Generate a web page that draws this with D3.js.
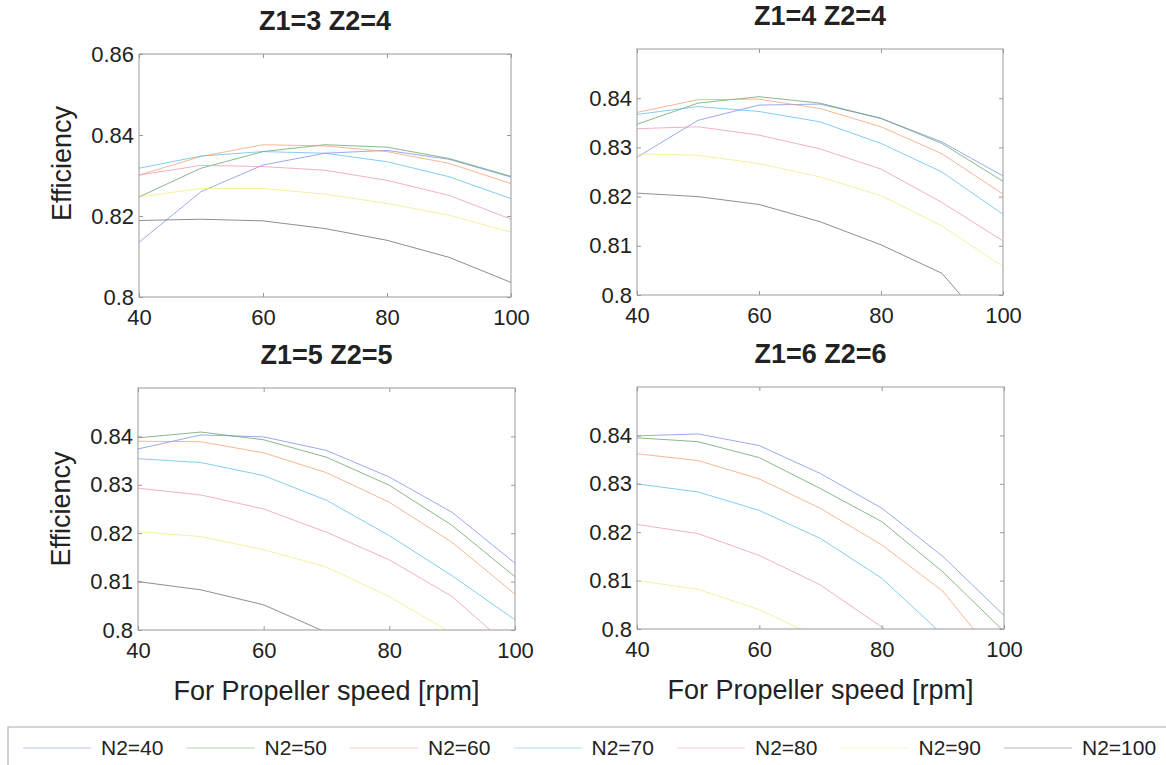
<html>
<head>
<meta charset="utf-8"/>
<title>Efficiency vs propeller speed</title>
<script src="https://d3js.org/d3.v7.min.js"></script>
<style>
  body { margin: 0; background: #fff; }
  text { font-family: "Liberation Sans", Arial, sans-serif; fill: #222; }
  .tick text { font-size: 22px; }
  .title { font-size: 27px; font-weight: bold; }
  .axisLabel { font-size: 27px; }
  .legendText { font-size: 21px; }
</style>
</head>
<body>
<div id="chart"></div>
<script>

var speeds = [40, 50, 60, 70, 80, 90, 100];
var seriesNames = ["N2=40", "N2=50", "N2=60", "N2=70", "N2=80", "N2=90", "N2=100"];
var seriesColors = ["#6f86e6", "#5a9a5a", "#f29868", "#4fb8ec", "#ee8fb0", "#efe97a", "#5e5e5e"];

// efficiency, one row per N2 series, one value per speed
var effZ3Z4 = [
  [0.8135, 0.8260, 0.8326, 0.8355, 0.8362, 0.8340, 0.8296],
  [0.8247, 0.8318, 0.8359, 0.8376, 0.8370, 0.8342, 0.8298],
  [0.8301, 0.8347, 0.8376, 0.8373, 0.8359, 0.8330, 0.8280],
  [0.8318, 0.8348, 0.8359, 0.8355, 0.8334, 0.8297, 0.8243],
  [0.8301, 0.8325, 0.8322, 0.8313, 0.8288, 0.8251, 0.8192],
  [0.8247, 0.8268, 0.8268, 0.8254, 0.8231, 0.8202, 0.8160],
  [0.8189, 0.8192, 0.8188, 0.8169, 0.8140, 0.8098, 0.8036]
];
var effZ4Z4 = [
  [0.8280, 0.8355, 0.8386, 0.8388, 0.8359, 0.8311, 0.8242],
  [0.8347, 0.8390, 0.8403, 0.8390, 0.8359, 0.8308, 0.8231],
  [0.8371, 0.8397, 0.8398, 0.8379, 0.8342, 0.8287, 0.8205],
  [0.8367, 0.8383, 0.8373, 0.8352, 0.8308, 0.8250, 0.8164],
  [0.8338, 0.8342, 0.8325, 0.8297, 0.8256, 0.8188, 0.8110],
  [0.8287, 0.8284, 0.8267, 0.8240, 0.8202, 0.8140, 0.8058],
  [0.8207, 0.8200, 0.8184, 0.8149, 0.8102, 0.8044, 0.7900]
];
var effZ5Z5 = [
  [0.8374, 0.8403, 0.8399, 0.8371, 0.8316, 0.8243, 0.8138],
  [0.8397, 0.8409, 0.8393, 0.8357, 0.8299, 0.8216, 0.8110],
  [0.8390, 0.8389, 0.8366, 0.8325, 0.8264, 0.8181, 0.8074],
  [0.8354, 0.8346, 0.8319, 0.8268, 0.8195, 0.8112, 0.8021],
  [0.8293, 0.8279, 0.8250, 0.8202, 0.8145, 0.8069, 0.7955],
  [0.8203, 0.8193, 0.8166, 0.8130, 0.8069, 0.7993, 0.7900],
  [0.8100, 0.8083, 0.8052, 0.7995, 0.7940, 0.7860, 0.7760]
];
var effZ6Z6 = [
  [0.8399, 0.8403, 0.8379, 0.8321, 0.8250, 0.8150, 0.8028],
  [0.8395, 0.8387, 0.8354, 0.8290, 0.8222, 0.8118, 0.7995],
  [0.8362, 0.8348, 0.8310, 0.8249, 0.8174, 0.8078, 0.7922],
  [0.8300, 0.8283, 0.8245, 0.8187, 0.8105, 0.7988, 0.7870],
  [0.8216, 0.8197, 0.8152, 0.8091, 0.8004, 0.7900, 0.7780],
  [0.8100, 0.8082, 0.8040, 0.7980, 0.7890, 0.7780, 0.7650],
  [0.7970, 0.7950, 0.7910, 0.7850, 0.7760, 0.7640, 0.7500]
];

var xTicks = [40, 60, 80, 100];
var yTicksTop = [0.80, 0.82, 0.84, 0.86];
var yTicksFine = [0.80, 0.81, 0.82, 0.83, 0.84];

var panels = [
  {title: "Z1=3 Z2=4", data: effZ3Z4, yDomain: [0.80, 0.86], yTicks: yTicksTop, box: {x: 139, y: 54, w: 372, h: 243}, ylabel: true, ylabelShift: -12, xlabel: false},
  {title: "Z1=4 Z2=4", data: effZ4Z4, yDomain: [0.80, 0.85], yTicks: yTicksFine, box: {x: 637, y: 49, w: 366, h: 246}, ylabel: false, xlabel: false},
  {title: "Z1=5 Z2=5", data: effZ5Z5, yDomain: [0.80, 0.85], yTicks: yTicksFine, box: {x: 138, y: 388, w: 377, h: 242}, ylabel: true, ylabelShift: 0, xlabel: true},
  {title: "Z1=6 Z2=6", data: effZ6Z6, yDomain: [0.80, 0.85], yTicks: yTicksFine, box: {x: 637, y: 387, w: 367, h: 242}, ylabel: false, xlabel: true}
];

var svg = d3.select("#chart").append("svg")
    .attr("width", 1166)
    .attr("height", 765);

var fmt = function(d) { return String(+d.toFixed(2)); };

panels.forEach(function(p, pi) {

  var b = p.box;
  var x = d3.scaleLinear().domain([40, 100]).range([0, b.w]);
  var y = d3.scaleLinear().domain(p.yDomain).range([b.h, 0]);

  var g = svg.append("g").attr("transform", "translate(" + b.x + "," + b.y + ")");

  svg.append("clipPath").attr("id", "clip" + pi)
    .append("rect").attr("width", b.w).attr("height", b.h);

  // ticks point inward on all four sides, like a matlab box
  g.append("g").attr("class", "axis")
    .attr("transform", "translate(0," + b.h + ")")
    .call(d3.axisBottom(x).tickValues(xTicks).tickSizeInner(-4).tickSizeOuter(0).tickPadding(12));
  g.append("g").attr("class", "axis")
    .call(d3.axisTop(x).tickValues(xTicks).tickSizeInner(-4).tickSizeOuter(0).tickFormat(""));
  g.append("g").attr("class", "axis")
    .call(d3.axisLeft(y).tickValues(p.yTicks).tickSizeInner(-4).tickSizeOuter(0).tickPadding(5).tickFormat(fmt));
  g.append("g").attr("class", "axis")
    .attr("transform", "translate(" + b.w + ",0)")
    .call(d3.axisRight(y).tickValues(p.yTicks).tickSizeInner(-4).tickSizeOuter(0).tickFormat(""));

  g.selectAll(".axis .domain").remove();
  g.selectAll(".axis line").attr("stroke", "#999");

  var line = d3.line()
    .x(function(d, i) { return x(speeds[i]); })
    .y(function(d) { return y(d); });

  g.append("g").attr("clip-path", "url(#clip" + pi + ")")
    .selectAll("path")
    .data(p.data)
    .enter().append("path")
      .attr("d", line)
      .style("fill", "none")
      .style("stroke", function(d, i) { return seriesColors[i]; })
      .style("stroke-width", 1)
      .style("opacity", 0.7);

  g.append("rect")
    .attr("width", b.w).attr("height", b.h)
    .style("fill", "none").style("stroke", "#999").style("stroke-width", 1);

  svg.append("text").attr("class", "title")
    .attr("x", b.x + b.w / 2).attr("y", b.y - 24)
    .attr("text-anchor", "middle")
    .text(p.title);

  if (p.ylabel) {
    svg.append("text").attr("class", "axisLabel")
      .attr("transform", "translate(" + (b.x - 68) + "," + (b.y + b.h / 2 + p.ylabelShift) + ") rotate(-90)")
      .attr("text-anchor", "middle")
      .text("Efficiency");
  }
  if (p.xlabel) {
    svg.append("text").attr("class", "axisLabel")
      .attr("x", b.x + b.w / 2).attr("y", b.y + b.h + 70)
      .attr("text-anchor", "middle")
      .text("For Propeller speed [rpm]");
  }
});

// legend box runs off the right and bottom edges
var legend = svg.append("g").attr("transform", "translate(8,727)");
legend.append("rect")
  .attr("width", 1170).attr("height", 60)
  .style("fill", "none").style("stroke", "#aaa").style("stroke-width", 1);

var legendX = d3.scaleLinear().domain([0, seriesNames.length]).range([15, 15 + 163.5 * seriesNames.length]);

var item = legend.selectAll(".legendItem")
  .data(seriesNames)
  .enter().append("g").attr("class", "legendItem")
  .attr("transform", function(d, i) { return "translate(" + legendX(i) + ",21)"; });

item.append("line")
  .attr("x1", 0).attr("x2", 68)
  .style("stroke", function(d, i) { return seriesColors[i]; })
  .style("stroke-width", 1)
  .style("opacity", 0.45);

item.append("text").attr("class", "legendText")
  .attr("x", 78).attr("dy", "0.35em")
  .text(function(d) { return d; });

</script>
</body>
</html>
